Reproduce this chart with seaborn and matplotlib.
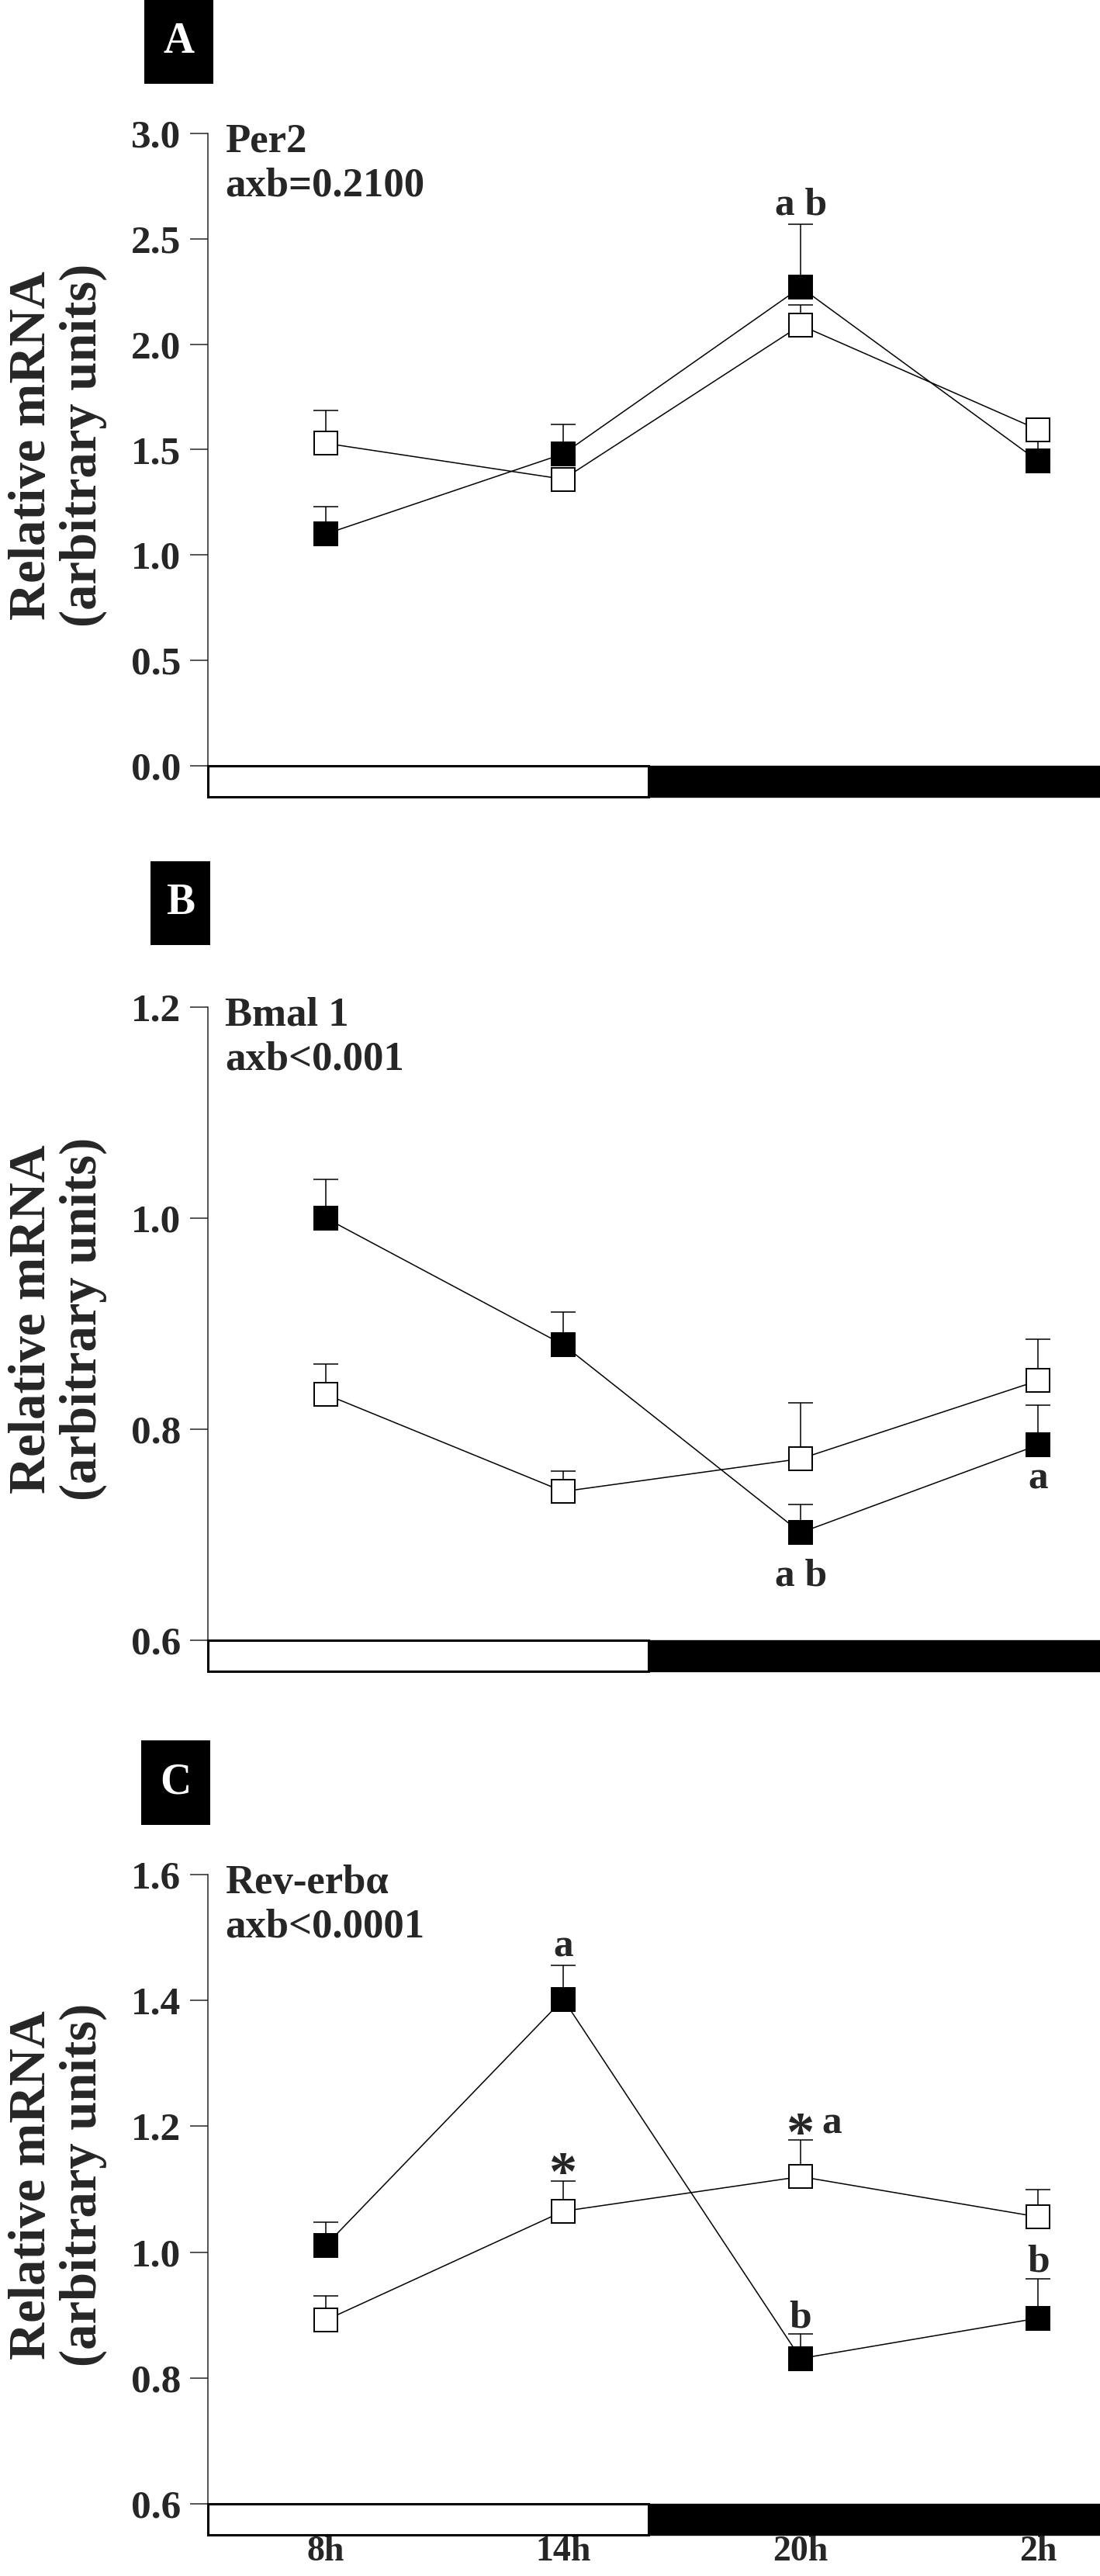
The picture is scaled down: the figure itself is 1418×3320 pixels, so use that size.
import matplotlib

matplotlib.use("Agg")
import matplotlib.pyplot as plt
import seaborn as sns
from matplotlib.patches import Rectangle

# ---- data -------------------------------------------------------------
time_labels = ["8h", "14h", "20h", "2h"]
time_pos = [0, 1, 2, 3]
lights_off = 1.36  # end of the white (light) part of the bar, in category units

# A - Per2
per2_open = [1.53, 1.36, 2.09, 1.595]
per2_open_sem = [0.155, 0.04, 0.095, 0.03]
per2_filled = [1.10, 1.48, 2.27, 1.446]
per2_filled_sem = [0.13, 0.14, 0.30, 0.125]
per2_marks = ["a b"]
per2_marks_x = [2.0]
per2_marks_y = [2.614]

# B - Bmal 1
bmal_open = [0.833, 0.741, 0.772, 0.846]
bmal_open_sem = [0.029, 0.019, 0.053, 0.039]
bmal_filled = [1.0, 0.880, 0.702, 0.785]
bmal_filled_sem = [0.037, 0.031, 0.027, 0.038]
bmal_marks = ["a b", "a"]
bmal_marks_x = [2.0, 3.0]
bmal_marks_y = [0.652, 0.744]

# C - Rev-erb alpha
rev_open = [0.892, 1.065, 1.120, 1.056]
rev_open_sem = [0.038, 0.048, 0.058, 0.044]
rev_filled = [1.011, 1.402, 0.831, 0.895]
rev_filled_sem = [0.037, 0.054, 0.039, 0.063]
rev_marks = ["a", "*", "*", "a", "b", "b"]
rev_marks_x = [1.0, 1.0, 2.0, 2.13, 2.0, 3.0]
rev_marks_y = [1.470, 1.100, 1.162, 1.189, 0.880, 0.969]

panels = [
    dict(letter="A", gene="Per2", stat="axb=0.2100", ylim=(0.0, 3.0), step=0.5,
         open=per2_open, open_sem=per2_open_sem, filled=per2_filled, filled_sem=per2_filled_sem,
         marks=per2_marks, marks_x=per2_marks_x, marks_y=per2_marks_y),
    dict(letter="B", gene="Bmal 1", stat="axb<0.001", ylim=(0.6, 1.2), step=0.2,
         open=bmal_open, open_sem=bmal_open_sem, filled=bmal_filled, filled_sem=bmal_filled_sem,
         marks=bmal_marks, marks_x=bmal_marks_x, marks_y=bmal_marks_y),
    dict(letter="C", gene="Rev-erb\u03b1", stat="axb<0.0001", ylim=(0.6, 1.6), step=0.2,
         open=rev_open, open_sem=rev_open_sem, filled=rev_filled, filled_sem=rev_filled_sem,
         marks=rev_marks, marks_x=rev_marks_x, marks_y=rev_marks_y),
]

# ---- layout (pixels of the 1418x3320 canvas) -------------------------
W, H = 1418, 3320
AX_LEFT = 268
AX_TOPS = [172, 1298, 2416]      # y of the top tick
AX_ZERO = [987, 2114, 3227]      # y of the lowest tick (top of the bar)
BAR_PX = 40
BOXES = [(186, 275, 0, 108), (194, 271, 1110, 1218), (182, 271, 2243, 2352)]
XLIM = (-0.497, 3.261)

sns.set_style("ticks")
plt.rcParams["font.family"] = ["Liberation Serif", "DejaVu Serif"]
plt.rcParams["font.weight"] = "bold"

fig = plt.figure(figsize=(W / 100, H / 100), dpi=100)

for i, p in enumerate(panels):
    top, zero = AX_TOPS[i], AX_ZERO[i]
    bottom = zero + BAR_PX
    ax = fig.add_axes([AX_LEFT / W, 1 - bottom / H, (W - AX_LEFT) / W, (bottom - top) / H])

    ymin, ymax = p["ylim"]
    bar_h = (ymax - ymin) * BAR_PX / (zero - top)

    # one-sided (upper) error bars first, markers on top
    for vals, sem in ((p["open"], p["open_sem"]), (p["filled"], p["filled_sem"])):
        ax.errorbar(time_pos, vals, yerr=[[0] * len(sem), sem], fmt="none",
                    ecolor="black", elinewidth=1.1, capsize=11.5, capthick=1.1, zorder=2)

    sns.lineplot(x=time_pos, y=p["open"], ax=ax, color="black", linewidth=1.1,
                 marker="s", markersize=22, markerfacecolor="white",
                 markeredgecolor="black", markeredgewidth=1.4, zorder=3)
    sns.lineplot(x=time_pos, y=p["filled"], ax=ax, color="black", linewidth=1.1,
                 marker="s", markersize=22, markerfacecolor="black",
                 markeredgecolor="black", markeredgewidth=1.4, zorder=4)

    # light / dark bar under the data
    ax.add_patch(Rectangle((XLIM[0], ymin - bar_h), lights_off - XLIM[0], bar_h,
                           facecolor="white", edgecolor="black", linewidth=2.2,
                           clip_on=False, zorder=5))
    ax.add_patch(Rectangle((lights_off, ymin - bar_h), XLIM[1] - lights_off + 0.05, bar_h,
                           facecolor="black", edgecolor="black", linewidth=1.0,
                           clip_on=False, zorder=5))

    ax.set_xlim(*XLIM)
    ax.set_ylim(ymin - bar_h, ymax)
    n = int(round((ymax - ymin) / p["step"]))
    ax.set_yticks([ymin + k * p["step"] for k in range(n + 1)])
    ax.set_yticklabels([f"{ymin + k * p['step']:.1f}" for k in range(n + 1)])
    ax.tick_params(axis="y", length=16.5, width=1.1, pad=8.5, labelsize=37)

    if i == len(panels) - 1:
        ax.set_xticks(time_pos)
        ax.set_xticklabels(time_labels, fontsize=33, fontweight="bold")
        ax.tick_params(axis="x", length=0, pad=1)
    else:
        ax.set_xticks([])

    for lab in ax.get_yticklabels():
        lab.set_fontweight("bold")

    sns.despine(ax=ax, top=True, right=True, bottom=True)
    ax.spines["left"].set_linewidth(1.1)

    ax.set_ylabel("Relative mRNA\n(arbitrary units)", fontsize=48, fontweight="bold",
                  linespacing=1.1)
    ax.yaxis.set_label_coords(-0.113, 0.53)

    ax.annotate(p["gene"], xy=(0, 1), xycoords="axes fraction", xytext=(16, -17),
                textcoords="offset points", ha="left", va="baseline",
                fontsize=38, fontweight="bold")
    ax.annotate(p["stat"], xy=(0, 1), xycoords="axes fraction", xytext=(16, -58),
                textcoords="offset points", ha="left", va="baseline",
                fontsize=38, fontweight="bold")

    for txt, mx, my in zip(p["marks"], p["marks_x"], p["marks_y"]):
        size = 52 if txt == "*" else 37
        ax.text(mx, my, txt, ha="center", va="baseline", fontsize=size, fontweight="bold")

    # panel letter in a black box
    x0, x1, y0, y1 = BOXES[i]
    fig.add_artist(Rectangle((x0 / W, 1 - y1 / H), (x1 - x0) / W, (y1 - y0) / H,
                             transform=fig.transFigure, facecolor="black", edgecolor="none"))
    fig.text((x0 + x1) / 2 / W, 1 - (y0 + y1) / 2 / H, p["letter"], color="white",
             ha="center", va="center", fontsize=40, fontweight="bold")

fig.savefig("out.png", dpi=100)
plt.close(fig)
